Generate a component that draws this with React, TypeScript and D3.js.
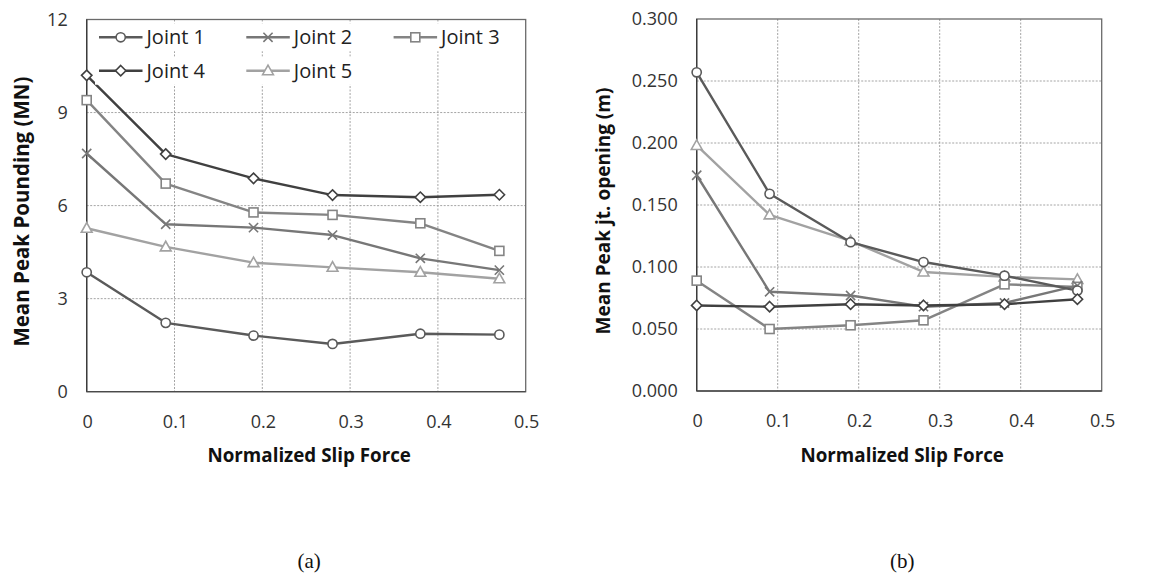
import React from "react";
import * as d3 from "d3";

const slipForce = [0, 0.09, 0.19, 0.28, 0.38, 0.47];
const jointNames = ["Joint 1", "Joint 2", "Joint 3", "Joint 4", "Joint 5"];

const poundJ1 = [3.85, 2.22, 1.81, 1.54, 1.87, 1.84];
const poundJ2 = [7.68, 5.4, 5.29, 5.05, 4.3, 3.92];
const poundJ3 = [9.4, 6.71, 5.78, 5.7, 5.43, 4.54];
const poundJ4 = [10.2, 7.66, 6.88, 6.34, 6.27, 6.35];
const poundJ5 = [5.27, 4.67, 4.16, 4.01, 3.85, 3.64];

const openJ1 = [0.257, 0.159, 0.12, 0.104, 0.093, 0.081];
const openJ2 = [0.174, 0.08, 0.077, 0.068, 0.071, 0.085];
const openJ3 = [0.089, 0.05, 0.053, 0.057, 0.086, 0.084];
const openJ4 = [0.069, 0.068, 0.07, 0.069, 0.07, 0.074];
const openJ5 = [0.198, 0.142, 0.121, 0.096, 0.092, 0.09];

const xTicks = [0, 0.1, 0.2, 0.3, 0.4, 0.5];
const poundTicks = [0, 3, 6, 9, 12];
const openTicks = [0, 0.05, 0.1, 0.15, 0.2, 0.25, 0.3];

const colors = ["#5a5a5a", "#777777", "#848484", "#404040", "#a2a2a2"];
const markers = ["circle", "x", "square", "diamond", "triangle"];
const drawOrder = [4, 2, 1, 0, 3];

const FONT = "'Open Sans', sans-serif";

function Marker({ type, x, y, color }: { type: string; x: number; y: number; color: string }) {
  const sw = 1.6;
  if (type === "circle")
    return <circle cx={x} cy={y} r={4.6} fill="white" stroke={color} strokeWidth={sw} />;
  if (type === "square")
    return <rect x={x - 4.5} y={y - 4.5} width={9} height={9} fill="white" stroke={color} strokeWidth={sw} />;
  if (type === "diamond")
    return (
      <path d={`M${x},${y - 5.2}L${x + 5.2},${y}L${x},${y + 5.2}L${x - 5.2},${y}Z`} fill="white" stroke={color} strokeWidth={sw} />
    );
  if (type === "triangle")
    return (
      <path d={`M${x},${y - 5.6}L${x + 5.4},${y + 4}L${x - 5.4},${y + 4}Z`} fill="white" stroke={color} strokeWidth={sw} />
    );
  return (
    <path d={`M${x - 4.6},${y - 4.6}L${x + 4.6},${y + 4.6}M${x + 4.6},${y - 4.6}L${x - 4.6},${y + 4.6}`} fill="none" stroke={color} strokeWidth={sw} />
  );
}

type PanelProps = {
  x0: number; x1: number; y0: number; y1: number;
  yMax: number; yTicks: number[]; yFmt: (v: number) => string;
  series: number[][]; yTitle: string; caption: string; legend?: boolean;
  yTitleX: number; yTitleSize: number;
};

function Panel(p: PanelProps) {
  const xs = d3.scaleLinear().domain([0, 0.5]).range([p.x0, p.x1]);
  const ys = d3.scaleLinear().domain([0, p.yMax]).range([p.y1, p.y0]);
  const line = d3.line<[number, number]>().x((d) => xs(d[0])).y((d) => ys(d[1]));
  const cx = (p.x0 + p.x1) / 2;
  const cy = (p.y0 + p.y1) / 2;
  return (
    <g>
      {xTicks.slice(1, -1).map((t) => (
        <line key={"gx" + t} x1={xs(t)} x2={xs(t)} y1={p.y0} y2={p.y1} stroke="#9a9a9a" strokeWidth={0.9} strokeDasharray="2,1.5" />
      ))}
      {p.yTicks.slice(1, -1).map((t) => (
        <line key={"gy" + t} x1={p.x0} x2={p.x1} y1={ys(t)} y2={ys(t)} stroke="#9a9a9a" strokeWidth={0.9} strokeDasharray="2,1.5" />
      ))}
      <rect x={p.x0} y={p.y0} width={p.x1 - p.x0} height={p.y1 - p.y0} fill="none" stroke="#6a6a6a" strokeWidth={1.3} />
      <line x1={p.x0} x2={p.x0} y1={p.y0} y2={p.y1} stroke="#3a3a3a" strokeWidth={1.3} />
      <line x1={p.x0} x2={p.x1} y1={p.y1} y2={p.y1} stroke="#4a4a4a" strokeWidth={1.3} />
      {p.yTicks.map((t) => (
        <text key={"ty" + t} x={p.x0 - 19} y={ys(t)} dy="0.35em" textAnchor="end" fontFamily={FONT} fontSize={18} fill="#333">
          {p.yFmt(t)}
        </text>
      ))}
      {xTicks.map((t) => (
        <text key={"tx" + t} x={xs(t) + 1} y={p.y1 + 30} dy="0.35em" textAnchor="middle" fontFamily={FONT} fontSize={18} fill="#333">
          {t === 0 ? "0" : d3.format(".1f")(t)}
        </text>
      ))}
      <text x={cx + 3} y={455} dy="0.35em" textAnchor="middle" fontFamily={FONT} fontWeight="bold" fontSize={18.8} fill="#111">
        Normalized Slip Force
      </text>
      <text transform={`translate(${p.yTitleX},${cy + 6}) rotate(-90)`} dy="0.35em" textAnchor="middle" fontFamily={FONT} fontWeight="bold" fontSize={p.yTitleSize} fill="#111">
        {p.yTitle}
      </text>
      <text x={cx + 3} y={561} dy="0.35em" textAnchor="middle" fontFamily="'Liberation Serif', 'Times New Roman', serif" fontSize={21} fill="#111">
        {p.caption}
      </text>
      {drawOrder.map((si) => (
        <g key={"s" + si}>
          <path d={line(slipForce.map((x, i) => [x, p.series[si][i]]) as [number, number][]) || ""} fill="none" stroke={colors[si]} strokeWidth={2.4} strokeLinejoin="round" />
          {slipForce.map((x, i) => (
            <Marker key={i} type={markers[si]} x={xs(x)} y={ys(p.series[si][i])} color={colors[si]} />
          ))}
        </g>
      ))}
      {p.legend &&
        jointNames.map((name, i) => {
          const col = i % 3;
          const row = Math.floor(i / 3);
          const lx = 99 + col * 147.3;
          const ly = 37.3 + row * 33.4;
          return (
            <g key={"lg" + i}>
              <rect x={lx - 4} y={ly - 14} width={116} height={28} fill="white" />
              <line x1={lx} x2={lx + 43.5} y1={ly} y2={ly} stroke={colors[i]} strokeWidth={2.4} />
              <Marker type={markers[i]} x={lx + 21.7} y={ly} color={colors[i]} />
              <text x={lx + 47.5} y={ly} dy="0.35em" fontFamily={FONT} fontSize={20} fill="#222">
                {name}
              </text>
            </g>
          );
        })}
    </g>
  );
}

export default function App() {
  return (
    <svg width={1158} height={576} style={{ position: "absolute", left: 0, top: 0, background: "white" }}>
      <rect width={1158} height={576} fill="white" />
      <Panel
        x0={86.7} x1={525.7} y0={19.5} y1={391.7}
        yMax={12} yTicks={poundTicks} yFmt={(v) => String(v)}
        series={[poundJ1, poundJ2, poundJ3, poundJ4, poundJ5]}
        yTitle="Mean Peak Pounding (MN)" caption="(a)" legend yTitleX={21.7} yTitleSize={20.5}
      />
      <Panel
        x0={696.7} x1={1101.7} y0={19} y1={391}
        yMax={0.3} yTicks={openTicks} yFmt={(v) => d3.format(".3f")(v)}
        series={[openJ1, openJ2, openJ3, openJ4, openJ5]}
        yTitle="Mean Peak jt. opening (m)" caption="(b)" yTitleX={603} yTitleSize={19}
      />
    </svg>
  );
}
